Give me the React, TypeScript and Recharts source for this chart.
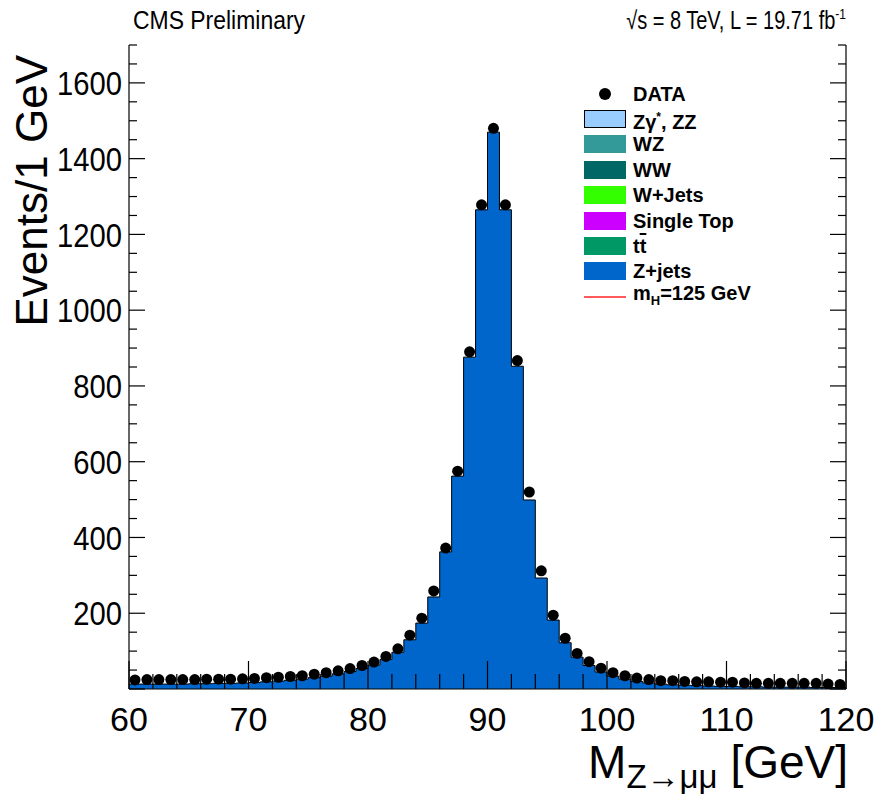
import React from "react";
import { ComposedChart, Area, Scatter, XAxis, YAxis, Legend } from "recharts";

const FONT = "'Liberation Sans', Arial, Helvetica, sans-serif";

// 1 GeV bins from 60 to 120 GeV
const binEdges = [
  60, 61, 62, 63, 64, 65, 66, 67, 68, 69, 70, 71, 72, 73, 74, 75, 76, 77, 78, 79,
  80, 81, 82, 83, 84, 85, 86, 87, 88, 89, 90, 91, 92, 93, 94, 95, 96, 97, 98, 99,
  100, 101, 102, 103, 104, 105, 106, 107, 108, 109, 110, 111, 112, 113, 114, 115,
  116, 117, 118, 119, 120,
];

// observed events per bin
const dataEvents = [
  24, 25, 25, 25, 25, 25, 26, 26, 26, 27,
  28, 30, 31, 33, 35, 39, 43, 48, 54, 62,
  71, 86, 106, 142, 187, 259, 372, 575, 890, 1278,
  1480, 1278, 867, 520, 312, 195, 134, 94, 72, 55,
  43, 35, 29, 25, 22, 22, 20, 19, 19, 18,
  18, 16, 15, 15, 15, 15, 15, 15, 13, 12,
];

// Z+jets simulation per bin
const zjetsEvents = [
  13, 13, 13, 13, 13, 14, 14, 15, 15, 16,
  17, 19, 21, 23, 26, 30, 34, 40, 46, 54,
  63, 78, 97, 130, 174, 243, 362, 562, 876, 1265,
  1470, 1265, 852, 499, 293, 182, 122, 84, 62, 45,
  34, 26, 20, 16, 13, 11, 10, 9, 8, 7,
  7, 6, 6, 5, 5, 5, 5, 4, 4, 4,
];

const xTicks = [
  60, 62, 64, 66, 68, 70, 72, 74, 76, 78, 80, 82, 84, 86, 88, 90, 92, 94, 96, 98,
  100, 102, 104, 106, 108, 110, 112, 114, 116, 118, 120,
];
const xLabels = [60, 70, 80, 90, 100, 110, 120];

const yTicks = [
  0, 50, 100, 150, 200, 250, 300, 350, 400, 450, 500, 550, 600, 650, 700, 750, 800,
  850, 900, 950, 1000, 1050, 1100, 1150, 1200, 1250, 1300, 1350, 1400, 1450, 1500,
  1550, 1600, 1650, 1700,
];
const yLabels = [200, 400, 600, 800, 1000, 1200, 1400, 1600];
const yMajor = [0, 200, 400, 600, 800, 1000, 1200, 1400, 1600];

const legendItems = [
  { key: "data", color: "#000000" },
  { key: "zgzz", color: "#99ccff" },
  { key: "wz", color: "#339999" },
  { key: "ww", color: "#006666" },
  { key: "wjets", color: "#33ff00" },
  { key: "stop", color: "#cc00ff" },
  { key: "tt", color: "#009966" },
  { key: "zjets", color: "#0066cc" },
  { key: "higgs", color: "#ff5a5a" },
];

const histRows = binEdges.map((edge, i) => ({
  m: edge,
  zjets: zjetsEvents[Math.min(i, zjetsEvents.length - 1)],
}));

const dataRows = dataEvents.map((n, i) => ({
  m: (binEdges[i] + binEdges[i + 1]) / 2,
  events: n,
}));

function legendLabel(key: string) {
  switch (key) {
    case "data":
      return "DATA";
    case "zgzz":
      return (
        <>
          Zγ<sup style={{ fontSize: 12 }}>*</sup>, ZZ
        </>
      );
    case "wz":
      return "WZ";
    case "ww":
      return "WW";
    case "wjets":
      return "W+Jets";
    case "stop":
      return "Single Top";
    case "tt":
      return (
        <>
          t<span style={{ textDecoration: "overline" }}>t</span>
        </>
      );
    case "zjets":
      return "Z+jets";
    default:
      return (
        <>
          m<sub style={{ fontSize: 13 }}>H</sub>=125 GeV
        </>
      );
  }
}

function renderLegend() {
  return (
    <div style={{ fontFamily: FONT, fontWeight: "bold", fontSize: 20, color: "#000" }}>
      {legendItems.map((it) => {
        let swatch;
        if (it.key === "data") {
          swatch = <div style={{ width: 12, height: 12, borderRadius: 6, background: "#000" }} />;
        } else if (it.key === "higgs") {
          swatch = <div style={{ width: 42, height: 1.5, background: it.color }} />;
        } else {
          swatch = (
            <div
              style={{
                width: 42,
                height: 18,
                boxSizing: "border-box",
                background: it.color,
                border: it.key === "zgzz" ? "1.5px solid #000" : "none",
              }}
            />
          );
        }
        return (
          <div key={it.key} style={{ display: "flex", alignItems: "center", height: 25.4 }}>
            <div style={{ width: 42, display: "flex", justifyContent: "center", alignItems: "center" }}>
              {swatch}
            </div>
            <span style={{ marginLeft: 7, lineHeight: "20px" }}>{legendLabel(it.key)}</span>
          </div>
        );
      })}
    </div>
  );
}

function BottomTick(props: any) {
  const { x, y, payload } = props;
  const v = payload.value;
  const major = xLabels.includes(v);
  return (
    <g>
      <line x1={x} y1={y} x2={x} y2={y - (major ? 28 : 15)} stroke="#000" strokeWidth={1.2} />
      {major && (
        <text x={x} y={y + 42} textAnchor="middle" fontSize={34} fontFamily={FONT} fill="#000">
          {v}
        </text>
      )}
    </g>
  );
}

function TopTick(props: any) {
  const { x, y, payload } = props;
  const major = xLabels.includes(payload.value);
  return <line x1={x} y1={y} x2={x} y2={y + (major ? 28 : 15)} stroke="#000" strokeWidth={1.2} />;
}

function LeftTick(props: any) {
  const { x, y, payload } = props;
  const v = payload.value;
  const major = yMajor.includes(v);
  return (
    <g>
      <line x1={x} y1={y} x2={x + (major ? 16 : 8)} y2={y} stroke="#000" strokeWidth={1.2} />
      {yLabels.includes(v) && (
        <g transform={`translate(${x - 7}, ${y}) scale(0.86, 1)`}>
          <text dy="0.36em" textAnchor="end" fontSize={34} fontFamily={FONT} fill="#000">
            {v}
          </text>
        </g>
      )}
    </g>
  );
}

function RightTick(props: any) {
  const { x, y, payload } = props;
  const major = yMajor.includes(payload.value);
  return <line x1={x} y1={y} x2={x - (major ? 16 : 8)} y2={y} stroke="#000" strokeWidth={1.2} />;
}

function XTitle(props: any) {
  const vb = props.viewBox;
  return (
    <text x={vb.x + vb.width + 2} y={vb.y + 89} textAnchor="end" fontSize={46} fontFamily={FONT} fill="#000">
      M
      <tspan fontSize={33} dy={10}>
        Z→μμ
      </tspan>
      <tspan dy={-10}> [GeV]</tspan>
    </text>
  );
}

function YTitle(props: any) {
  const vb = props.viewBox;
  return (
    <text
      transform={`translate(${vb.x + 47}, ${vb.y + 10}) rotate(-90)`}
      textAnchor="end"
      fontSize={44}
      fontFamily={FONT}
      fill="#000"
    >
      Events/1 GeV
    </text>
  );
}

const DataDot = (props: any) => <circle cx={props.cx} cy={props.cy} r={5.5} fill="#000" />;

export default function App() {
  const frame = { stroke: "#000", strokeWidth: 1.2 };
  return (
    <div style={{ position: "absolute", left: 0, top: 0, width: 879, height: 795, background: "#fff" }}>
      <ComposedChart width={879} height={795} data={histRows} margin={{ top: 45, right: 0, bottom: 0, left: 0 }}>
        <Area
          type="stepAfter"
          dataKey="zjets"
          stroke="#000"
          strokeWidth={1}
          fill="#0066cc"
          fillOpacity={1}
          dot={false}
          activeDot={false}
          isAnimationActive={false}
        />
        <XAxis
          dataKey="m"
          type="number"
          domain={[60, 120]}
          ticks={xTicks}
          interval={0}
          allowDataOverflow
          height={106}
          tickSize={0}
          tickMargin={0}
          tickLine={false}
          axisLine={frame}
          tick={(p: any) => <BottomTick {...p} />}
          label={XTitle}
        />
        <XAxis
          xAxisId="top"
          orientation="top"
          dataKey="m"
          type="number"
          domain={[60, 120]}
          ticks={xTicks}
          interval={0}
          allowDataOverflow
          height={0}
          tickSize={0}
          tickMargin={0}
          tickLine={false}
          axisLine={frame}
          tick={(p: any) => <TopTick {...p} />}
        />
        <YAxis
          type="number"
          domain={[0, 1700]}
          ticks={yTicks}
          interval={0}
          allowDataOverflow
          width={129}
          tickSize={0}
          tickMargin={0}
          tickLine={false}
          axisLine={frame}
          tick={(p: any) => <LeftTick {...p} />}
          label={YTitle}
        />
        <YAxis
          yAxisId="right"
          orientation="right"
          type="number"
          domain={[0, 1700]}
          ticks={yTicks}
          interval={0}
          allowDataOverflow
          width={33}
          tickSize={0}
          tickMargin={0}
          tickLine={false}
          axisLine={frame}
          tick={(p: any) => <RightTick {...p} />}
        />
        <Scatter
          data={dataRows}
          dataKey="events"
          shape={(p: any) => <DataDot {...p} />}
          isAnimationActive={false}
        />
        <Legend
          layout="vertical"
          align="center"
          verticalAlign="middle"
          content={renderLegend}
          wrapperStyle={{ position: "absolute", left: 584, top: 81, width: 230, height: "auto" }}
        />
      </ComposedChart>
      <svg width={879} height={45} style={{ position: "absolute", left: 0, top: 0, pointerEvents: "none" }}>
        <text x={133} y={29} fontSize={25} fontFamily={FONT} textLength={172} lengthAdjust="spacingAndGlyphs">
          CMS Preliminary
        </text>
        <g transform="translate(846,29) scale(0.8,1)">
          <text textAnchor="end" fontSize={25} fontFamily={FONT}>
            √s = 8 TeV, L = 19.71 fb
            <tspan dy={-10} fontSize={15}>
              -1
            </tspan>
          </text>
        </g>
      </svg>
    </div>
  );
}
